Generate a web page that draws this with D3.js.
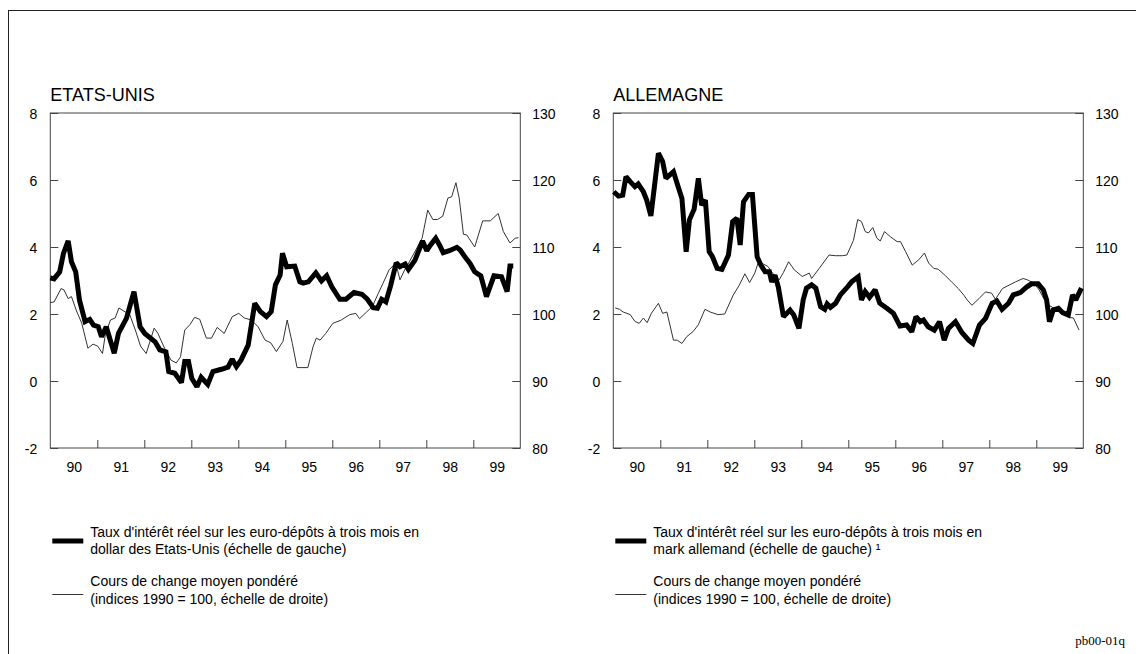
<!DOCTYPE html>
<html><head><meta charset="utf-8">
<script src="https://cdn.jsdelivr.net/npm/d3@7"></script>
<style>
body{margin:0;background:#fff}
svg text{font-family:"Liberation Sans",Arial,Helvetica,sans-serif;fill:#000}
</style>
</head><body>
<svg id="chart" width="1136" height="654"></svg>
<script>
// ---------- DATA ----------
const yearLabels = ["90","91","92","93","94","95","96","97","98","99"];
const leftTicks = [-2, 0, 2, 4, 6, 8];
const rightTicks = [80, 90, 100, 110, 120, 130];
const panelTitles = ["ETATS-UNIS", "ALLEMAGNE"];

const usRateT = [1990.00,1990.08,1990.20,1990.28,1990.38,1990.45,1990.54,1990.62,1990.74,1990.84,1990.92,1991.02,1991.09,1991.19,1991.36,1991.45,1991.62,1991.78,1991.91,1992.01,1992.23,1992.33,1992.46,1992.52,1992.65,1992.79,1992.86,1992.94,1993.01,1993.12,1993.21,1993.35,1993.46,1993.64,1993.78,1993.87,1993.96,1994.06,1994.21,1994.35,1994.47,1994.60,1994.70,1994.79,1994.89,1994.94,1995.03,1995.20,1995.31,1995.38,1995.49,1995.65,1995.77,1995.88,1995.99,1996.16,1996.29,1996.46,1996.63,1996.74,1996.87,1996.96,1997.05,1997.14,1997.24,1997.36,1997.44,1997.55,1997.62,1997.76,1997.92,1998.01,1998.09,1998.20,1998.28,1998.36,1998.49,1998.65,1998.72,1998.82,1998.93,1999.03,1999.16,1999.28,1999.44,1999.60,1999.72,1999.78,1999.85];
const usRate = [3.08,3.05,3.26,3.81,4.18,3.56,3.26,2.42,1.77,1.84,1.67,1.62,1.32,1.62,0.83,1.42,1.87,2.67,1.62,1.42,1.17,0.93,0.87,0.28,0.23,-0.05,0.58,0.58,0.08,-0.17,0.11,-0.10,0.28,0.35,0.41,0.65,0.43,0.63,1.07,2.32,2.07,1.92,2.07,2.87,3.16,3.81,3.41,3.43,2.96,2.92,2.96,3.23,2.99,3.14,2.81,2.44,2.44,2.64,2.59,2.45,2.19,2.17,2.44,2.36,2.84,3.53,3.41,3.49,3.33,3.61,4.18,3.89,4.06,4.26,4.06,3.83,3.89,3.99,3.91,3.71,3.51,3.26,3.14,2.52,3.14,3.11,2.67,3.43,3.43];

const usFxT = [1990.00,1990.08,1990.23,1990.29,1990.38,1990.45,1990.55,1990.67,1990.80,1990.91,1991.01,1991.11,1991.17,1991.28,1991.38,1991.46,1991.55,1991.69,1991.81,1991.92,1992.04,1992.13,1992.21,1992.29,1992.43,1992.57,1992.68,1992.77,1992.86,1992.97,1993.07,1993.18,1993.32,1993.43,1993.55,1993.70,1993.87,1994.01,1994.13,1994.28,1994.42,1994.57,1994.69,1994.81,1994.95,1995.04,1995.15,1995.25,1995.48,1995.59,1995.66,1995.74,1995.86,1996.01,1996.19,1996.37,1996.50,1996.58,1996.73,1996.85,1996.98,1997.08,1997.21,1997.35,1997.44,1997.54,1997.64,1997.78,1997.91,1998.03,1998.14,1998.24,1998.35,1998.46,1998.54,1998.63,1998.70,1998.79,1998.86,1999.03,1999.20,1999.36,1999.53,1999.64,1999.78,1999.89,1999.96];
const usFx = [101.7,101.8,103.8,103.6,102.3,102.6,100.6,98.6,94.9,95.5,95.2,94.1,96.9,99.1,99.4,100.9,100.5,99.9,97.6,95.2,94.1,96.1,97.9,97.1,94.9,93.1,92.7,93.6,97.6,98.4,99.5,99.2,96.4,96.4,98.0,97.1,99.6,100.1,99.4,99.1,98.1,96.1,95.7,94.4,95.9,99.1,95.6,92.0,92.0,95.1,96.4,96.1,97.1,98.6,99.1,99.9,100.1,99.3,100.3,101.1,103.1,104.6,106.6,107.6,105.1,106.6,107.8,109.6,111.3,115.5,114.1,114.1,114.6,117.3,117.5,119.6,117.3,111.9,111.8,110.0,113.9,113.9,115.0,112.3,110.6,111.3,111.4];

const deRateT = [1990.01,1990.11,1990.20,1990.27,1990.36,1990.46,1990.53,1990.64,1990.71,1990.80,1990.96,1991.05,1991.12,1991.28,1991.38,1991.46,1991.55,1991.62,1991.72,1991.81,1991.88,1991.96,1992.04,1992.11,1992.21,1992.31,1992.45,1992.54,1992.63,1992.70,1992.77,1992.88,1992.96,1993.06,1993.14,1993.23,1993.32,1993.37,1993.44,1993.51,1993.62,1993.76,1993.84,1993.95,1994.04,1994.11,1994.22,1994.31,1994.41,1994.50,1994.55,1994.62,1994.73,1994.83,1994.96,1995.07,1995.21,1995.28,1995.36,1995.45,1995.57,1995.67,1995.82,1995.96,1996.10,1996.24,1996.35,1996.44,1996.53,1996.60,1996.70,1996.83,1996.94,1997.04,1997.13,1997.28,1997.42,1997.56,1997.65,1997.79,1997.92,1998.06,1998.16,1998.27,1998.41,1998.51,1998.66,1998.80,1998.90,1999.04,1999.15,1999.22,1999.28,1999.36,1999.47,1999.56,1999.68,1999.77,1999.84,1999.96];
const deRate = [5.65,5.52,5.55,6.10,5.95,5.80,5.88,5.65,5.40,4.93,6.80,6.55,6.05,6.25,5.80,5.45,3.86,4.81,5.13,6.05,5.25,5.40,3.86,3.71,3.36,3.33,3.76,4.76,4.86,4.06,5.35,5.57,5.57,3.71,3.46,3.26,3.26,2.96,3.16,2.81,1.92,2.12,1.97,1.57,2.42,2.77,2.87,2.77,2.22,2.14,2.30,2.20,2.32,2.57,2.77,2.96,3.11,2.42,2.67,2.50,2.72,2.32,2.17,2.02,1.64,1.67,1.47,1.92,1.77,1.82,1.62,1.52,1.77,1.22,1.57,1.77,1.44,1.22,1.12,1.67,1.87,2.32,2.39,2.14,2.32,2.57,2.64,2.81,2.90,2.90,2.72,2.42,1.77,2.12,2.17,2.04,1.97,2.57,2.42,2.77];

const deFxT = [1990.04,1990.13,1990.21,1990.36,1990.46,1990.55,1990.64,1990.72,1990.81,1990.96,1991.05,1991.14,1991.28,1991.36,1991.46,1991.56,1991.70,1991.81,1991.95,1992.06,1992.23,1992.37,1992.55,1992.68,1992.80,1992.90,1993.01,1993.08,1993.18,1993.29,1993.39,1993.53,1993.62,1993.73,1993.85,1994.02,1994.17,1994.22,1994.38,1994.59,1994.73,1994.87,1994.97,1995.11,1995.20,1995.28,1995.36,1995.43,1995.52,1995.61,1995.68,1995.77,1995.90,1996.04,1996.11,1996.22,1996.36,1996.50,1996.62,1996.71,1996.82,1996.91,1997.07,1997.21,1997.34,1997.46,1997.53,1997.63,1997.78,1997.92,1998.05,1998.13,1998.28,1998.42,1998.56,1998.72,1998.81,1998.95,1999.06,1999.16,1999.27,1999.41,1999.54,1999.69,1999.79,1999.91];
const deFx = [100.9,100.7,100.3,99.9,98.9,98.6,99.4,98.7,100.1,101.6,100.1,100.3,96.1,96.1,95.6,96.6,97.4,98.4,100.7,100.3,99.9,100.0,102.8,104.3,106.0,104.7,106.1,107.6,107.5,107.1,106.1,105.1,106.2,107.8,106.6,105.6,106.1,105.3,106.8,108.8,108.7,108.7,108.8,111.0,114.1,113.8,112.3,112.1,112.9,111.3,110.9,112.3,111.5,110.8,110.8,109.3,107.3,108.1,109.1,107.6,106.8,106.7,105.7,104.7,103.8,102.8,102.1,101.3,102.3,103.3,103.1,102.2,103.8,104.3,104.8,105.3,105.1,104.6,103.6,102.3,101.3,100.7,100.7,99.5,99.4,97.6];

const legendRate = [
  ["Taux d'intérêt réel sur les euro-dépôts à trois mois en", "dollar des Etats-Unis (échelle de gauche)"],
  ["Taux d'intérêt réel sur les euro-dépôts à trois mois en", "mark allemand (échelle de gauche) \u00B9"]
];
const legendFx = ["Cours de change moyen pondéré", "(indices 1990 = 100, échelle de droite)"];
const footnote = "pb00-01q";

// ---------- DRAW ----------
const svg = d3.select("#chart");
svg.append("rect").attr("x",8.5).attr("y",10.5).attr("width",1140).attr("height",700)
  .attr("fill","none").attr("stroke","#222").attr("stroke-width",1);

const panels = [
  {x0: 50.3, title: panelTitles[0], rT: usRateT, r: usRate, fT: usFxT, f: usFx, leg: legendRate[0]},
  {x0: 613.3, title: panelTitles[1], rT: deRateT, r: deRate, fT: deFxT, f: deFx, leg: legendRate[1]}
];
const plotW = 470, plotTop = 113, plotBottom = 448;
const plainNum = d => String(d);

panels.forEach(p => {
  const g = svg.append("g");
  const x = d3.scaleLinear().domain([1990, 2000]).range([p.x0, p.x0 + plotW]);
  const yL = d3.scaleLinear().domain([-2, 8]).range([plotBottom, plotTop]);
  const yR = d3.scaleLinear().domain([80, 130]).range([plotBottom, plotTop]);

  g.append("rect").attr("x", p.x0).attr("y", plotTop).attr("width", plotW).attr("height", plotBottom - plotTop)
    .attr("fill","none").attr("stroke","#444").attr("stroke-width",1);

  const aL = g.append("g").attr("transform",`translate(${p.x0},0)`)
    .call(d3.axisLeft(yL).tickValues(leftTicks).tickFormat(plainNum).tickSizeInner(-8).tickSizeOuter(0).tickPadding(13));
  const aR = g.append("g").attr("transform",`translate(${p.x0 + plotW},0)`)
    .call(d3.axisRight(yR).tickValues(rightTicks).tickFormat(plainNum).tickSizeInner(-8).tickSizeOuter(0).tickPadding(12));
  const aB = g.append("g").attr("transform",`translate(0,${plotBottom})`)
    .call(d3.axisBottom(x).tickValues(d3.range(1991, 2000)).tickFormat("").tickSizeInner(-8).tickSizeOuter(0));
  const aBL = g.append("g").attr("transform",`translate(0,${plotBottom})`)
    .call(d3.axisBottom(x).tickValues(yearLabels.map((d,i)=>1990.5+i))
      .tickFormat((d,i)=>yearLabels[i]).tickSize(0).tickPadding(14));
  [aL,aR,aB,aBL].forEach(a=>{
    a.select(".domain").remove();
    a.selectAll("line").attr("stroke","#444");
    a.selectAll("text").attr("font-size",14).attr("font-family",null).style("fill","#000");
  });
  aL.selectAll("text").attr("dy","0.36em");
  aR.selectAll("text").attr("dy","0.36em");
  aBL.selectAll("line").remove();

  g.append("text").attr("x", p.x0).attr("y", 101).attr("font-size", 18).text(p.title);

  const fxPts = p.fT.map((t,i)=>[t, p.f[i]]);
  const rPts = p.rT.map((t,i)=>[t, p.r[i]]);
  g.append("path").datum(fxPts)
    .attr("d", d3.line().x(d=>x(d[0])).y(d=>yR(d[1])))
    .attr("fill","none").attr("stroke","#333").attr("stroke-width",1);
  g.append("path").datum(rPts)
    .attr("d", d3.line().x(d=>x(d[0])).y(d=>yL(d[1])))
    .attr("fill","none").attr("stroke","#000").attr("stroke-width",5).attr("stroke-linejoin","miter").attr("stroke-miterlimit",2);

  const lx = p.x0;
  g.append("line").attr("x1", lx + 2).attr("x2", lx + 33).attr("y1", 541).attr("y2", 541)
    .attr("stroke","#000").attr("stroke-width",5);
  g.append("text").attr("x", lx + 40).attr("y", 537).attr("font-size",14).text(p.leg[0]);
  g.append("text").attr("x", lx + 40).attr("y", 554).attr("font-size",14).text(p.leg[1]);
  g.append("line").attr("x1", lx + 2).attr("x2", lx + 33).attr("y1", 594.5).attr("y2", 594.5)
    .attr("stroke","#333").attr("stroke-width",1);
  g.append("text").attr("x", lx + 40).attr("y", 586).attr("font-size",14).text(legendFx[0]);
  g.append("text").attr("x", lx + 40).attr("y", 604).attr("font-size",14).text(legendFx[1]);
});

svg.append("text").attr("x", 1125).attr("y", 645).attr("text-anchor","end")
  .attr("font-size",13).style("font-family","'Liberation Serif','Times New Roman',serif").text(footnote);
</script>
</body></html>
